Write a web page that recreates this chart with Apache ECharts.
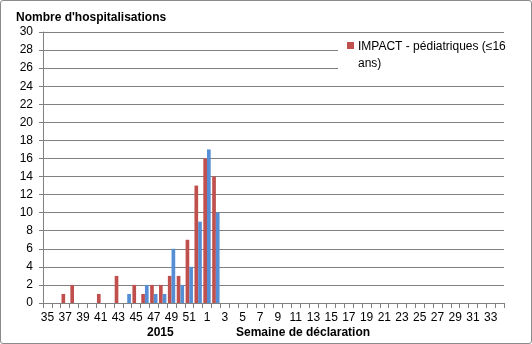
<!DOCTYPE html>
<html><head><meta charset="utf-8">
<script src="https://cdn.jsdelivr.net/npm/echarts@6/dist/echarts.min.js"></script>
<style>
html,body{margin:0;padding:0;background:#fff;}
#c{position:absolute;left:0;top:0;width:530px;height:342px;border:1px solid #8a8a8a;border-radius:3px;}
</style></head>
<body><div id="c"></div>
<script>
const weeks = ['35','36','37','38','39','40','41','42','43','44','45','46','47','48','49','50','51','52',
  '1','2','3','4','5','6','7','8','9','10','11','12','13','14','15','16','17','18','19','20','21','22','23','24','25','26','27','28','29','30','31','32','33','34'];
const pediatric = [0,0,1,2,0,0,1,0,3,0,2,1,2,2,3,3,7,13,16,14,
  0,0,0,0,0,0,0,0,0,0,0,0,0,0,0,0,0,0,0,0,0,0,0,0,0,0,0,0,0,0,0,0];
const other = [0,0,0,0,0,0,0,0,0,1,0,2,1,1,6,2,4,9,17,10,
  0,0,0,0,0,0,0,0,0,0,0,0,0,0,0,0,0,0,0,0,0,0,0,0,0,0,0,0,0,0,0,0];
const yTicks = {min:0, max:30, interval:2};
const pedName = 'IMPACT - pédiatriques (≤16 ans)';

const font = 'Liberation Sans, Arial, sans-serif';
const chart = echarts.init(document.getElementById('c'), null, {renderer:'canvas'});
chart.setOption({
  animation:false,
  textStyle:{fontFamily:font},
  grid:{left:42, right:27, top:31, bottom:40, containLabel:false},
  legend:{show:false},
  xAxis:{
    type:'category', data:weeks, boundaryGap:true,
    axisLine:{lineStyle:{color:'#808080'}},
    axisTick:{show:true, length:5, lineStyle:{color:'#808080'}, interval:0},
    axisLabel:{interval:1, color:'#000', fontSize:12, margin:9, fontFamily:font}
  },
  yAxis:{
    type:'value', min:yTicks.min, max:yTicks.max, interval:yTicks.interval,
    axisLine:{show:true, lineStyle:{color:'#808080'}},
    axisTick:{show:true, length:4, lineStyle:{color:'#808080'}},
    axisLabel:{color:'#000', fontSize:12, margin:10, fontFamily:font},
    splitLine:{lineStyle:{color:'#808080'}}
  },
  graphic:[
    {type:'text', left:15, top:11, style:{text:"Nombre d'hospitalisations", font:'bold 12px '+font, fill:'#000'}},
    {type:'text', left:146, top:326, style:{text:'2015', font:'bold 12px '+font, fill:'#000'}},
    {type:'text', left:235, top:326, style:{text:'Semaine de déclaration', font:'bold 12px '+font, fill:'#000'}},
    {type:'rect', left:337, top:35, z:100, shape:{width:170, height:40}, style:{fill:'#fff'}},
    {type:'rect', left:346, top:41, z:101, shape:{width:7, height:7}, style:{fill:'#C0504D'}},
    {type:'text', left:357, top:37, z:101, style:{text:'IMPACT - pédiatriques (≤16\nans)', font:'12px '+font, fill:'#000', lineHeight:17}}
  ],
  series:[
    {name:pedName, type:'bar', data:pediatric, itemStyle:{color:'#C0504D'}, barGap:'0%', barCategoryGap:'17%'},
    {name:'Autres', type:'bar', data:other, itemStyle:{color:'#558ED5'}, barGap:'0%', barCategoryGap:'17%'}
  ]
});
</script></body></html>
